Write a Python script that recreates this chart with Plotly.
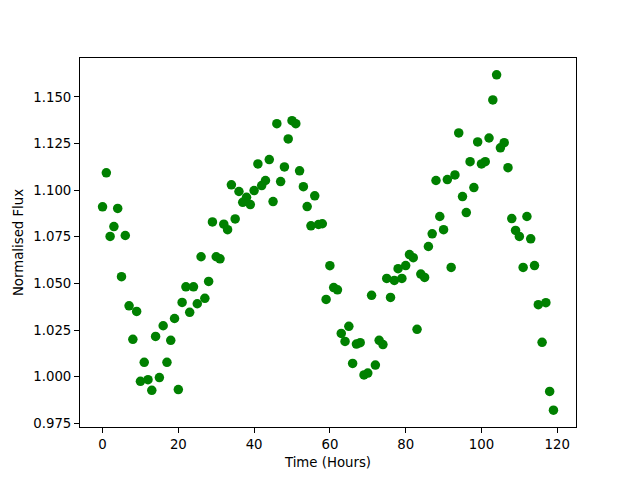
import plotly.graph_objects as go

time_hours = [0, 1, 2, 3, 4, 5, 6, 7, 8, 9,
              10, 11, 12, 13, 14, 15, 16, 17, 18, 19,
              20, 21, 22, 23, 24, 25, 26, 27, 28, 29,
              30, 31, 32, 33, 34, 35, 36, 37, 38, 39,
              40, 41, 42, 43, 44, 45, 46, 47, 48, 49,
              50, 51, 52, 53, 54, 55, 56, 57, 58, 59,
              60, 61, 62, 63, 64, 65, 66, 67, 68, 69,
              70, 71, 72, 73, 74, 75, 76, 77, 78, 79,
              80, 81, 82, 83, 84, 85, 86, 87, 88, 89,
              90, 91, 92, 93, 94, 95, 96, 97, 98, 99,
              100, 101, 102, 103, 104, 105, 106, 107, 108, 109,
              110, 111, 112, 113, 114, 115, 116, 117, 118, 119]

flux = [1.0911, 1.1093, 1.0752, 1.0805, 1.0902, 1.0536, 1.0757, 1.0380, 1.0200, 1.0350,
        0.9975, 1.0077, 0.9984, 0.9927, 1.0216, 0.9995, 1.0273, 1.0077, 1.0195, 1.0312,
        0.9931, 1.0398, 1.0482, 1.0345, 1.0482, 1.0391, 1.0643, 1.0420, 1.0511, 1.0830,
        1.0643, 1.0632, 1.0818, 1.0788, 1.1029, 1.0846, 1.0993, 1.0935, 1.0962, 1.0923,
        1.0998, 1.1141, 1.1025, 1.1052, 1.1164, 1.0939, 1.1357, 1.1046, 1.1125, 1.1275,
        1.1373, 1.1357, 1.1104, 1.1019, 1.0912, 1.0809, 1.0970, 1.0816, 1.0820, 1.0414,
        1.0595, 1.0478, 1.0466, 1.0232, 1.0189, 1.0270, 1.0071, 1.0175, 1.0182, 1.0009,
        1.0019, 1.0436, 1.0062, 1.0195, 1.0172, 1.0527, 1.0425, 1.0516, 1.0579, 1.0527,
        1.0596, 1.0655, 1.0638, 1.0254, 1.0550, 1.0532, 1.0698, 1.0766, 1.1052, 1.0859,
        1.0788, 1.1057, 1.0586, 1.1082, 1.1307, 1.0966, 1.0880, 1.1153, 1.1014, 1.1259,
        1.1141, 1.1153, 1.1280, 1.1484, 1.1619, 1.1227, 1.1255, 1.1121, 1.0848, 1.0784,
        1.0752, 1.0586, 1.0859, 1.0739, 1.0596, 1.0386, 1.0184, 1.0397, 0.9921, 0.9820]

y_ticks = [0.975, 1.000, 1.025, 1.050, 1.075, 1.100, 1.125, 1.150]
x_ticks = [0, 20, 40, 60, 80, 100, 120]

fig = go.Figure()
fig.add_trace(go.Scatter(
    x=time_hours, y=flux, mode="markers",
    marker=dict(color="#008000", size=9.5, line=dict(width=0)),
    showlegend=False,
))

font = dict(family="DejaVu Sans", size=13.3, color="black")
axis_common = dict(
    showline=True, linecolor="black", linewidth=1, mirror=True,
    ticks="outside", ticklen=5, tickwidth=1, tickcolor="black",
    showgrid=False, zeroline=False, tickfont=font, automargin=False,
)

xmin, xmax = min(time_hours), max(time_hours)
ymin, ymax = min(flux), max(flux)
xpad = 0.05 * (xmax - xmin)
ypad = 0.05 * (ymax - ymin)

# page body has an 8px default margin; margins compensate for it
fig.update_layout(
    width=640, height=480,
    margin=dict(l=72, r=72, t=49.6, b=60.8, pad=0),
    paper_bgcolor="white", plot_bgcolor="white",
    font=font,
    xaxis=dict(range=[xmin - xpad, xmax + xpad], tickvals=x_ticks,
               title=dict(text="Time (Hours)", font=font, standoff=6), **axis_common),
    yaxis=dict(range=[ymin - ypad, ymax + ypad], tickvals=y_ticks, tickformat=".3f",
               title=dict(text="Normalised Flux", font=font, standoff=6), **axis_common),
)

fig.write_html("out.html")
